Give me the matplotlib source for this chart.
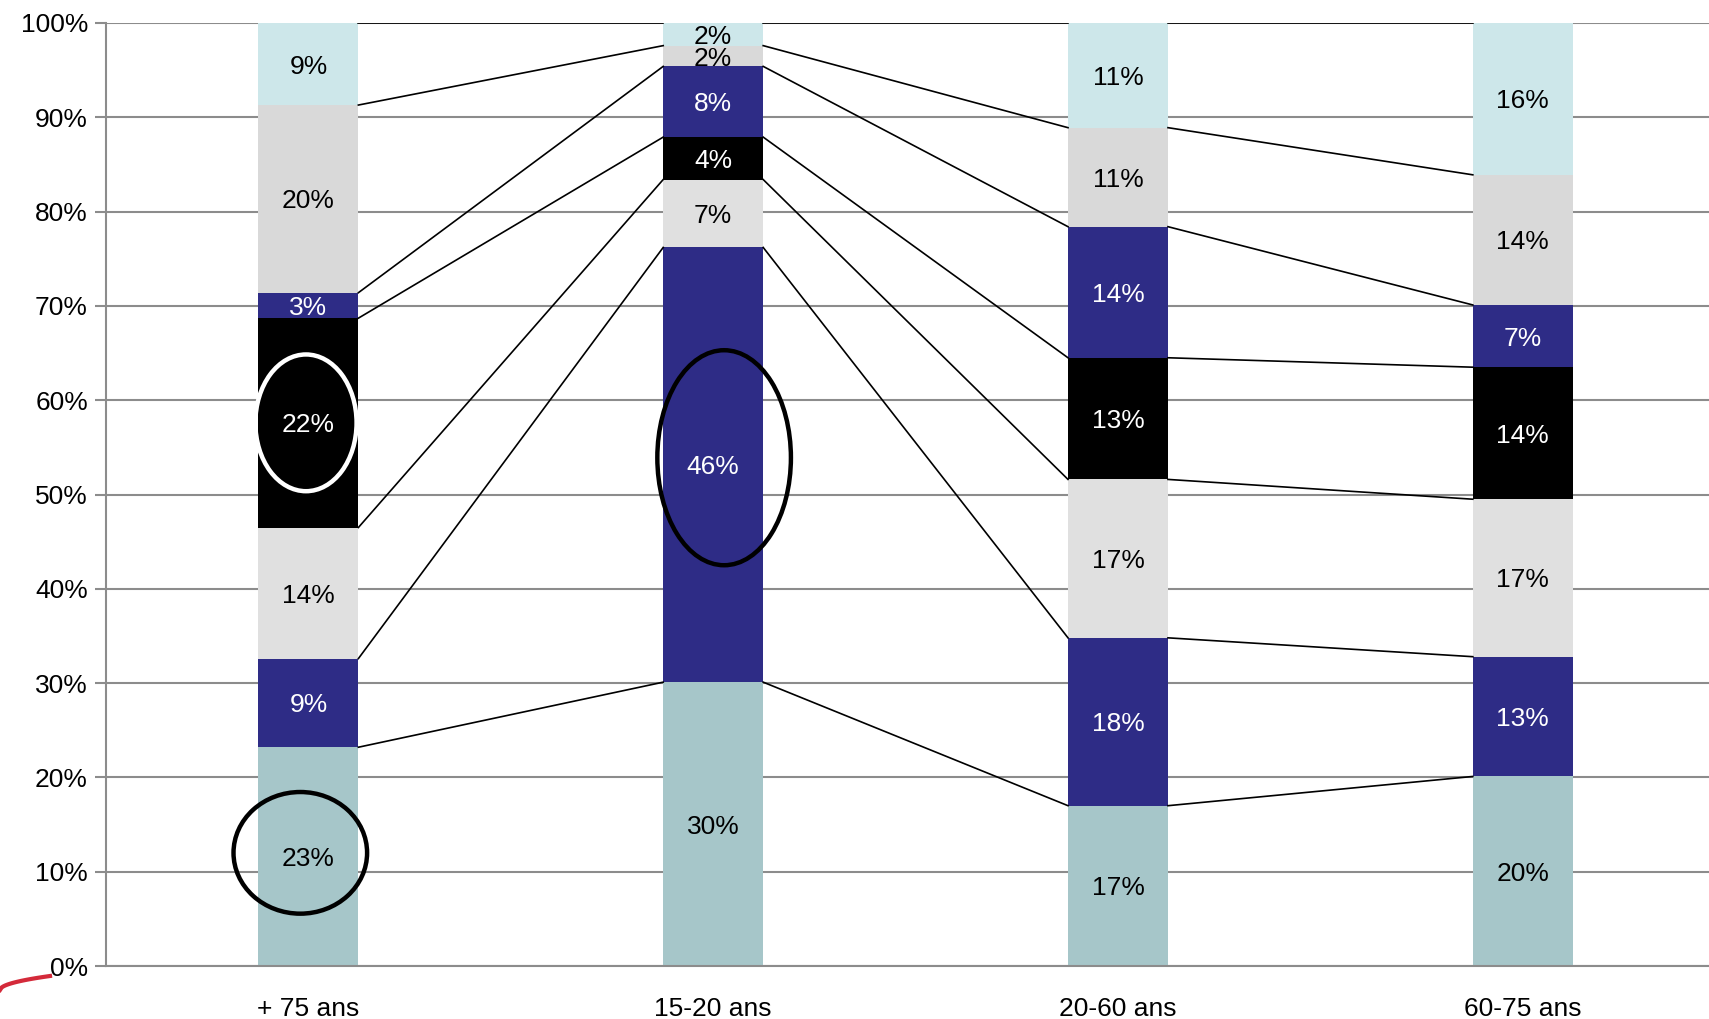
import numpy as np
import matplotlib.pyplot as plt
from matplotlib.patches import Ellipse
from matplotlib.ticker import FuncFormatter

plt.rcParams['font.family'] = ['Liberation Sans', 'DejaVu Sans']

# categories (x axis) and stacked shares, bottom segment first
categories = ['+ 75 ans', '15-20 ans', '20-60 ans', '60-75 ans']
seg1 = [23.2, 30.1, 17.0, 20.1]
seg2 = [9.4, 46.1, 17.8, 12.7]
seg3 = [13.9, 7.2, 16.8, 16.7]
seg4 = [22.2, 4.5, 12.9, 14.0]
seg5 = [2.7, 7.5, 13.9, 6.6]
seg6 = [19.9, 2.2, 10.5, 13.8]
seg7 = [8.7, 2.4, 11.1, 16.1]
labels1 = ['23%', '30%', '17%', '20%']
labels2 = ['9%', '46%', '18%', '13%']
labels3 = ['14%', '7%', '17%', '17%']
labels4 = ['22%', '4%', '13%', '14%']
labels5 = ['3%', '8%', '14%', '7%']
labels6 = ['20%', '2%', '11%', '14%']
labels7 = ['9%', '2%', '11%', '16%']

segments = [seg1, seg2, seg3, seg4, seg5, seg6, seg7]
seg_labels = [labels1, labels2, labels3, labels4, labels5, labels6, labels7]
colors = ['#A6C6C9', '#2E2C86', '#E0E0E0', '#000000', '#2E2C86', '#D9D9D9', '#CDE7EA']
text_colors = ['black', 'white', 'black', 'white', 'white', 'black', 'black']

fig = plt.figure(figsize=(17.09, 10.19), dpi=100)
ax = fig.add_axes([106 / 1709, 1 - 966 / 1019, 1 - 106 / 1709, 943 / 1019])

x = np.arange(len(categories))
width = 0.247
bottom = np.zeros(len(categories))
tops = []
for vals, col, tcol, labs in zip(segments, colors, text_colors, seg_labels):
    vals = np.array(vals)
    ax.bar(x, vals, width, bottom=bottom, color=col, zorder=2)
    for xi, b, v, lab in zip(x, bottom, vals, labs):
        ax.text(xi, b + v / 2, lab, ha='center', va='center_baseline', color=tcol,
                fontsize=19, zorder=4)
    bottom = bottom + vals
    tops.append(bottom.copy())

# series lines between neighbouring bars
for top in tops:
    for i in range(len(categories) - 1):
        ax.plot([x[i] + width / 2, x[i + 1] - width / 2], [top[i], top[i + 1]],
                color='black', lw=1.2, zorder=3)

# hand-drawn highlight circles
ax.add_patch(Ellipse((-0.02, 12.0), 0.33, 12.9, fill=False, ec='black', lw=3.2, zorder=5))
ax.add_patch(Ellipse((-0.006, 57.6), 0.25, 14.5, fill=False, ec='white', lw=3.2, zorder=5))
ax.add_patch(Ellipse((1.027, 53.9), 0.33, 22.8, fill=False, ec='black', lw=3.2, zorder=5))

ax.set_xlim(-0.5, 3.46)
ax.set_ylim(0, 100)
ax.set_yticks(np.arange(0, 101, 10))
ax.yaxis.set_major_formatter(FuncFormatter(lambda v, p: f'{v:.0f}%'))
ax.set_xticks(x)
ax.set_xticklabels(categories)
ax.tick_params(axis='x', length=0, pad=22, labelsize=19)
ax.tick_params(axis='y', length=8, width=1.5, color='#8C8C8C', labelsize=19, pad=5)
ax.grid(axis='y', color='#8C8C8C', lw=1.5, zorder=0)
ax.set_axisbelow(True)
for side in ['top', 'right']:
    ax.spines[side].set_visible(False)
for side in ['left', 'bottom']:
    ax.spines[side].set_color('#8C8C8C')
    ax.spines[side].set_linewidth(1.5)

# red logo fragment in the corner
t = np.linspace(0, 1, 30)
fig.add_artist(plt.Line2D(t * 50 / 1709, 1 - (990 - 14 * np.sqrt(t)) / 1019,
                          transform=fig.transFigure, color='#D42A3A', lw=3))

fig.savefig('out.png', dpi=100)
